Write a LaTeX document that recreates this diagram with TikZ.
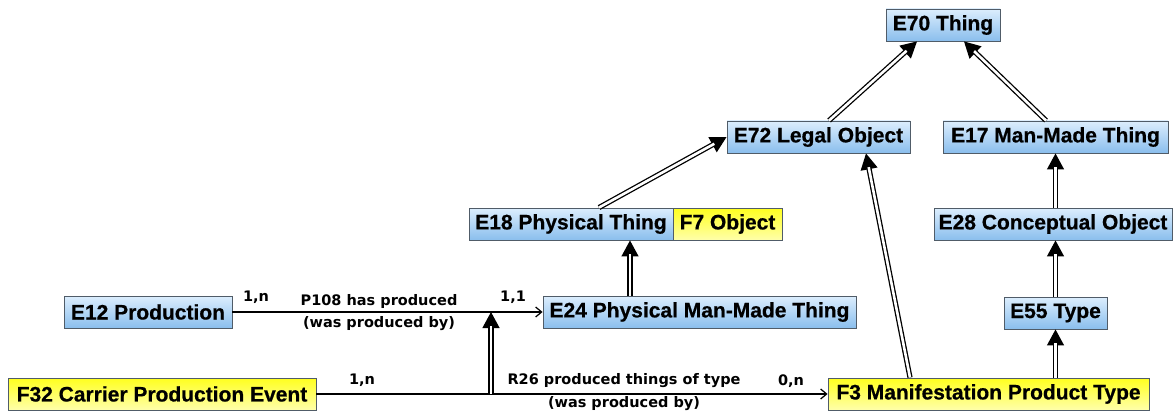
\documentclass[tikz,border=0pt]{standalone}
\usepackage{fontspec}
\setmainfont{Liberation Sans}[BoldFeatures={FakeBold=0.6}]
\newfontfamily\lblfont{DejaVu Sans}
\usetikzlibrary{arrows.meta}
\definecolor{btop}{RGB}{220,238,253}
\definecolor{bbot}{RGB}{138,190,237}
\definecolor{ytop}{RGB}{255,255,30}
\definecolor{ybot}{RGB}{255,255,170}
\definecolor{bord}{RGB}{80,92,104}
\tikzset{
  cls/.style={draw=bord, line width=0.9pt, minimum height=32pt, inner sep=0pt,
    font=\fontsize{21}{24}\selectfont\bfseries, top color=btop, bottom color=bbot},
  ycls/.style={cls, top color=ytop, bottom color=ybot},
  lbl/.style={font=\lblfont\fontsize{14.5}{16}\selectfont\bfseries, inner sep=0pt},
  rel/.style={line width=1.2pt, -{Straight Barb[length=6pt,width=10pt,line width=1.2pt]}},
  isatip/.style={line width=1.3pt, -{Triangle[length=16pt,width=17pt]}},
  isaline/.style={double, double distance=2.6pt, line width=1.3pt, shorten >=14pt}
}
\newcommand\isalink[2]{\draw[isatip] #1 -- #2; \draw[isaline] #1 -- #2;}
\begin{document}
\begin{tikzpicture}[x=1pt,y=-1pt]
\useasboundingbox (0,0) rectangle (1174,414);
% nodes
\node[cls, minimum width=114pt] (E70) at (943,25) {E70 Thing};
\node[cls, minimum width=183pt] (E72) at (818.5,137) {E72 Legal Object};
\node[cls, minimum width=225pt] (E17) at (1055.5,137) {E17 Man-Made Thing};
\node[cls, minimum width=204pt] (E18) at (571,224) {E18 Physical Thing};
\node[ycls, minimum width=109pt] (F7) at (727.5,224) {F7 Object};
\node[cls, minimum width=238pt] (E28) at (1053,224) {E28 Conceptual Object};
\node[cls, minimum width=313pt] (E24) at (699.5,312) {E24 Physical Man-Made Thing};
\node[cls, minimum width=103pt] (E55) at (1055.5,313) {E55 Type};
\node[cls, minimum width=168pt] (E12) at (148,312) {E12 Production};
\node[ycls, minimum width=308pt] (F32) at (162,394) {F32 Carrier Production Event};
\node[ycls, minimum width=321pt] (F3) at (988.5,394) {F3 Manifestation Product Type};
% property links
\draw[rel] (E12) -- (E24);
\draw[rel] (F32) -- (F3);
\coordinate (jt) at (491,312);
\coordinate (jb) at (491,394);
\isalink{(jb)}{(jt)}
% labels
\node[lbl] (m1) at (256,297) {1,n};
\node[lbl] (p1) at (379,301) {P108 has produced};
\node[lbl] (p2) at (379,324) {(was produced by)};
\node[lbl] (m2) at (513,297) {1,1};
\node[lbl] (m3) at (362,380) {1,n};
\node[lbl] (r1) at (624,381) {R26 produced things of type};
\node[lbl] (r2) at (624,404) {(was produced by)};
\node[lbl] (m4) at (791,381) {0,n};
% isa links
\isalink{([xshift=-69.5pt]E24.north)}{([xshift=59pt]E18.south)}
\isalink{([xshift=28pt]E18.north)}{(E72.west)}
\isalink{([xshift=10.5pt]E72.north)}{([xshift=-26pt]E70.south)}
\isalink{([xshift=-9.5pt]E17.north)}{([xshift=21pt]E70.south)}
\isalink{(E17.south |- E28.north)}{(E17.south)}
\isalink{(E55.north)}{(E55.north |- E28.south)}
\isalink{(F3.north -| E55.south)}{(E55.south)}
\isalink{([xshift=-78.5pt]F3.north)}{([xshift=47.5pt]E72.south)}
\end{tikzpicture}
\end{document}
